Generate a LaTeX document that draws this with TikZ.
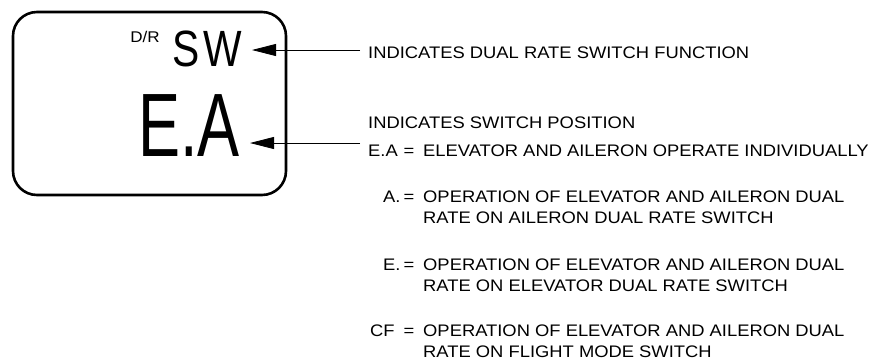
\documentclass[tikz,border=0pt]{standalone}
\usepackage{fontspec}
\setmainfont[FakeStretch=1.1]{Liberation Sans}
\newfontfamily\lcdbig[FakeStretch=0.7]{Liberation Sans}
\newfontfamily\lcdmid[FakeStretch=0.8]{Liberation Sans}
\usetikzlibrary{arrows.meta,positioning}

\begin{document}
\begin{tikzpicture}[x=1pt, y=-1pt,
  lcdbox/.style={draw, line width=2.6pt, rounded corners=24pt, minimum width=273pt, minimum height=183pt, inner sep=0pt},
  pointer/.style={-{Triangle[length=24pt,width=12pt]}, line width=0.8pt},
  note/.style={anchor=base west, inner sep=0pt, font=\fontsize{16.7}{18}\selectfont},
  eqsign/.style={anchor=base, inner sep=0pt, font=\fontsize{16.7}{18}\selectfont}]
  \useasboundingbox (0,0) rectangle (875,360);

  % the display
  \node[lcdbox] (lcd) at (149.5,103.5) {};
  \node[anchor=base east, inner xsep=10pt, inner ysep=0pt, font=\lcdmid\fontsize{51}{51}\selectfont] (dispsw) at (252,66) {S\kern4pt W};
  \node[anchor=base east, inner sep=0pt, font=\fontsize{15.5}{15.5}\selectfont] (dispdr) at (160,42) {D/R};
  \node[anchor=base east, inner xsep=10pt, inner ysep=0pt, font=\lcdbig\fontsize{90}{90}\selectfont] (dispea) at (250,156) {E.A};

  % pointers
  \coordinate (fntail) at (360,50);
  \coordinate (postail) at (360,143);
  \draw[pointer] (fntail) -- (fntail -| dispsw.east);
  \draw[pointer] (postail) -- (postail -| dispea.east);

  % notes
  \node[note] (fn) at (368,58.5) {INDICATES DUAL RATE SWITCH FUNCTION};
  \node[note] (pos) at (368,128.5) {INDICATES SWITCH POSITION};
  \node[note] (tagea) at (368,156.5) {E.A};
  \node[eqsign] (eqea) at (409,156.5) {=};
  \node[note] (txtea) at (423,156.5) {ELEVATOR AND AILERON OPERATE INDIVIDUALLY};
  \foreach \i/\tx/\ya/\tag/\rest in {a/383/202/A./AILERON DUAL RATE SWITCH,
      e/383/270/E./ELEVATOR DUAL RATE SWITCH,
      cf/370/336/CF/FLIGHT MODE SWITCH}{
    \node[note] (tag\i) at (\tx,\ya) {\tag};
    \node[eqsign] (eq\i) at (409,\ya) {=};
    \node[note] (txt\i) at (423,\ya) {OPERATION OF ELEVATOR AND AILERON DUAL};
    \node[note] (txtb\i) at (423,\ya+21.5) {RATE ON \rest};
  }
\end{tikzpicture}
\end{document}
